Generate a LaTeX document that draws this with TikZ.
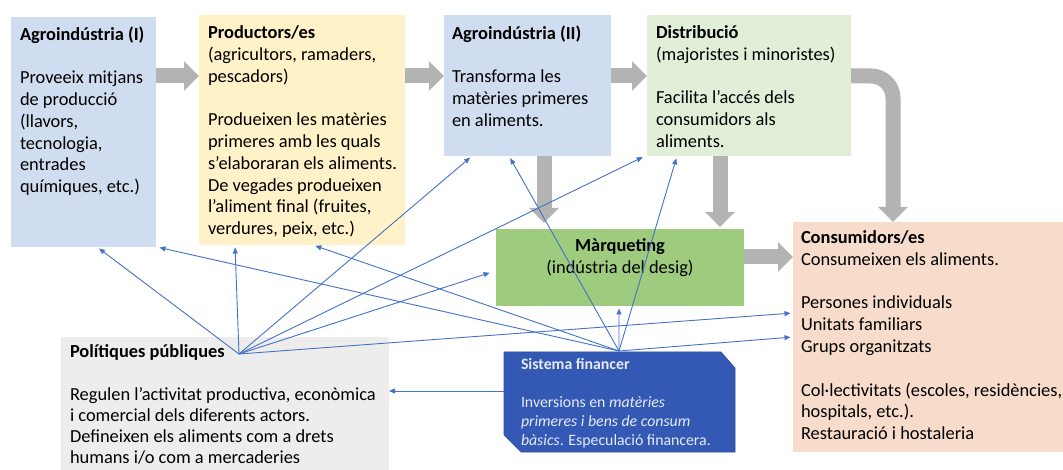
\documentclass[tikz,border=0pt]{standalone}
\usepackage{fontspec}
\setmainfont{Carlito}
\usetikzlibrary{arrows.meta}
\definecolor{lblue}{HTML}{D0DCEF}
\definecolor{lyel}{HTML}{FFF1C8}
\definecolor{lgreen}{HTML}{E1EFD9}
\definecolor{mgreen}{HTML}{9ECB7D}
\definecolor{peach}{HTML}{F8DCCB}
\definecolor{lgray}{HTML}{EDEDED}
\definecolor{sysblue}{HTML}{3459B5}
\definecolor{sysedge}{HTML}{2C4C9E}
\definecolor{garr}{HTML}{B3B3B3}
\definecolor{blu}{HTML}{4472C4}
\definecolor{systext}{HTML}{E6EAF5}
\begin{document}
\begin{tikzpicture}[x=1bp,y=-1bp,
  box/.style={inner sep=0pt, outer sep=0pt, anchor=north west, draw=none},
  txt/.style={inner sep=0pt, outer sep=0pt, anchor=north west, align=left,
    font=\fontsize{18.4bp}{21.8bp}\selectfont},
  stxt/.style={inner sep=0pt, outer sep=0pt, anchor=north west, align=left,
    text=systext, font=\fontsize{15.8bp}{19bp}\selectfont},
  garrow/.style={draw=garr, line width=15bp, -{Triangle[length=15bp,width=29bp]}},
  barrow/.style={draw=blu, line width=0.9bp, shorten >=2.5bp, -{Triangle[length=6bp,width=5bp]}}]
\useasboundingbox (0,0) rectangle (1063,470);
\fill[white] (0,0) rectangle (1063,470);

% boxes
\node[box, fill=lblue, minimum width=145bp, minimum height=230bp] (a1) at (11,17) {};
\node[box, fill=lyel, minimum width=206bp, minimum height=230bp] (pr) at (199,15) {};
\node[box, fill=lblue, minimum width=167bp, minimum height=141bp] (a2) at (444,15) {};
\node[box, fill=lgreen, minimum width=204bp, minimum height=141bp] (di) at (647,15) {};
\node[box, fill=mgreen, minimum width=248bp, minimum height=77bp] (ma) at (496,229) {};
\node[box, fill=peach, minimum width=270bp, minimum height=230bp] (co) at (793,222) {};
\node[box, fill=lgray, minimum width=328bp, minimum height=133bp] (po) at (61,337) {};
\node[box, minimum width=231bp, minimum height=100bp] (si) at (504,352) {};
\filldraw[fill=sysblue, draw=sysedge, line width=0.6bp]
  (si.north west) -- ([xshift=-14bp]si.north east) -- ([yshift=-16bp]si.north east)
  -- (si.south east) -- ([xshift=17bp]si.south west) -- ([yshift=17bp]si.south west) -- cycle;

% texts
\node[txt] (a1t) at (20,26.5) {\textbf{Agroindústria (I)}\\[21.8bp]
  Proveeix mitjans\\de producció\\(llavors,\\tecnologia,\\entrades\\químiques, etc.)};
\node[txt] (prt) at (208,25.5) {\textbf{Productors/es}\\(agricultors, ramaders,\\pescadors)\\[21.8bp]
  Produeixen les matèries\\primeres amb les quals\\s’elaboraran els aliments.\\De vegades produeixen\\l’aliment final (fruites,\\verdures, peix, etc.)};
\node[txt] (a2t) at (452,25.5) {\textbf{Agroindústria (II)}\\[21.8bp]
  Transforma les\\matèries primeres\\en aliments.};
\node[txt] (dit) at (656,25.5) {\textbf{Distribució}\\(majoristes i minoristes)\\[21.8bp]
  Facilita l’accés dels\\consumidors als\\aliments.};
\node[txt, anchor=north, align=center] (mat) at (620,239) {\textbf{Màrqueting}\\(indústria del desig)};
\node[txt] (cot) at (801,230.5) {\textbf{Consumidors/es}\\Consumeixen els aliments.\\[21.8bp]
  Persones individuals\\Unitats familiars\\Grups organitzats\\[21.8bp]
  Col·lectivitats (escoles, residències,\\hospitals, etc.).\\Restauració i hostaleria};
\node[txt, font=\fontsize{18.4bp}{21.2bp}\selectfont] (pot) at (70,345) {\textbf{Polítiques públiques}\\[21.2bp]
  Regulen l’activitat productiva, econòmica\\i comercial dels diferents actors.\\Defineixen els aliments com a drets\\humans i/o com a mercaderies};
\node[stxt] (sit) at (521,358) {\textbf{Sistema financer}\\[19bp]
  Inversions en \textit{matèries}\\\textit{primeres i bens de consum}\\\textit{bàsics}. Especulació financera.};

% gray flow arrows
\coordinate (row) at (0,76);
\coordinate (row2) at (0,257);
\coordinate (v1) at (544,0);
\coordinate (v2) at (720,0);
\coordinate (v3) at (893,0);
\draw[garrow] (a1.east |- row) -- (pr.west |- row);
\draw[garrow] (pr.east |- row) -- (a2.west |- row);
\draw[garrow] (a2.east |- row) -- (di.west |- row);
\draw[garrow, rounded corners=22bp] (di.east |- row) -| (co.north -| v3);
\draw[garrow, shorten >=6bp] (a2.south -| v1) -- (ma.north -| v1);
\draw[garrow, shorten >=2bp] (di.south -| v2) -- (ma.north -| v2);
\draw[garrow] (ma.east |- row2) -- (co.west |- row2);

% blue influence arrows
\coordinate (P) at (239,354);
\coordinate (S) at (619,351);
\draw[barrow] (P) -- ([xshift=86bp]a1.south west);
\draw[barrow] (P) -- ([xshift=36bp]pr.south west);
\draw[barrow] (P) -- ([xshift=28bp]a2.south west);
\draw[barrow] (P) -- ([xshift=-2bp]di.south west);
\draw[barrow] (P) -- ([xshift=-4bp,yshift=-4.5bp]ma.west);
\draw[barrow] (P) -- ([yshift=-91bp]co.north west);
\draw[barrow] (S) -- ([xshift=1bp]a1.south east);
\draw[barrow] (S) -- ([xshift=114bp]pr.south west);
\draw[barrow] (S) -- ([xshift=65bp]a2.south west);
\draw[barrow] (S) -- ([xshift=30bp]di.south west);
\draw[barrow] (S) -- ([xshift=123bp]ma.south west);
\draw[barrow] (S) -- ([yshift=-115bp]co.north west);
\coordinate (sL) at ([yshift=11bp]si.west);
\draw[barrow, shorten >=0bp] (sL) -- (sL -| po.east);
\end{tikzpicture}
\end{document}
